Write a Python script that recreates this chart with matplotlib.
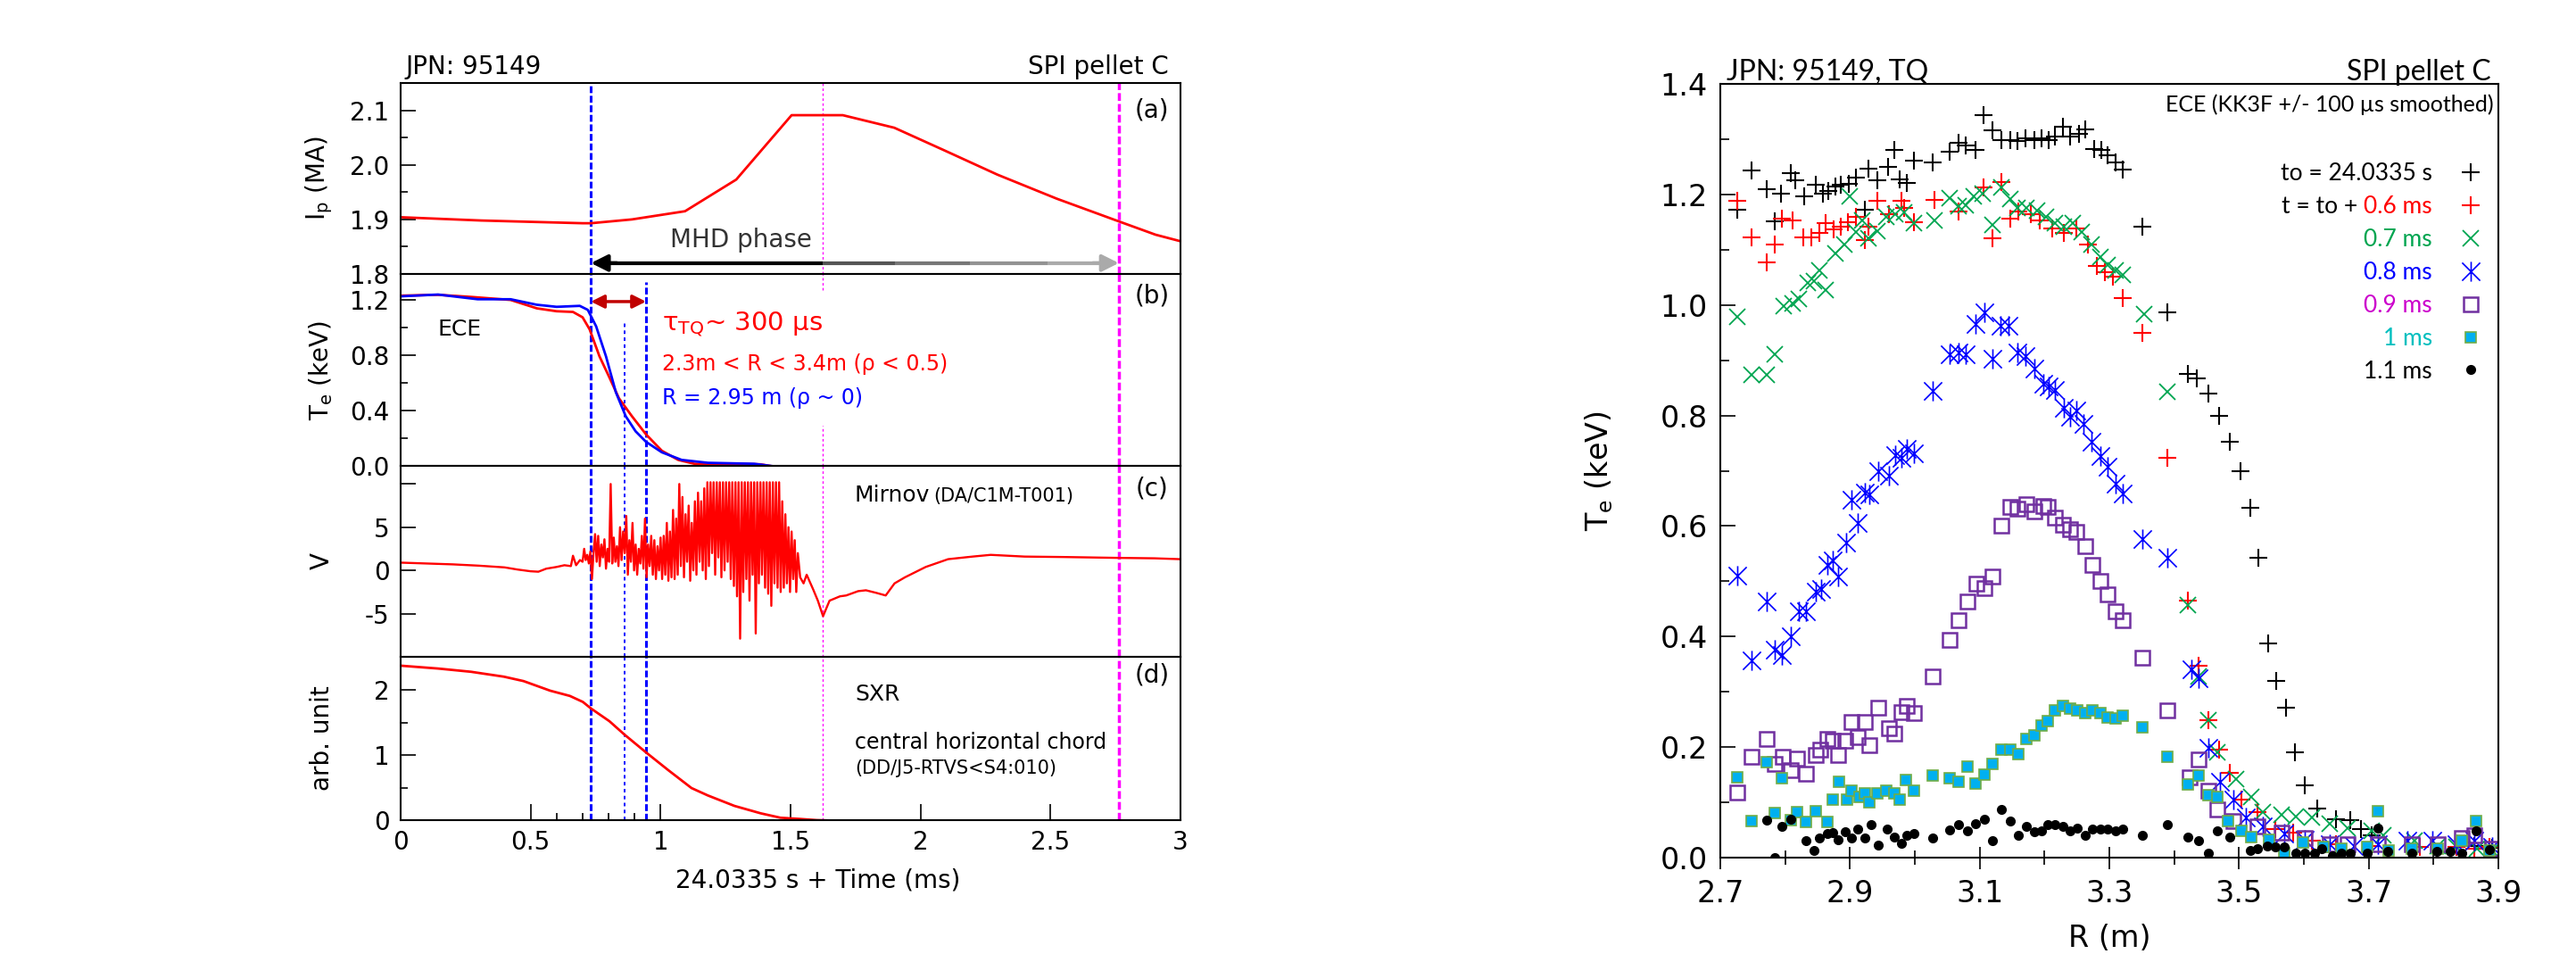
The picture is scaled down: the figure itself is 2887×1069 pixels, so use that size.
import matplotlib.pyplot as plt
from matplotlib.path import Path
from matplotlib.transforms import IdentityTransform

plt.rcParams['font.family'] = ['DejaVu Sans']
plt.rcParams['mathtext.default'] = 'regular'

# ---------------- left: time traces, time in ms after 24.0335 s
ip_t = [0, 0.309, 0.70, 0.732, 0.89, 1.094, 1.291, 1.504, 1.701, 1.899, 2.094, 2.296, 2.524, 2.765, 2.904, 3.0]
ip_ma = [1.904, 1.898, 1.893, 1.893, 1.900, 1.915, 1.973, 2.091, 2.091, 2.068, 2.026, 1.982, 1.938, 1.896, 1.872, 1.860]

ece_red_t = [0, 0.144, 0.27, 0.423, 0.524, 0.60, 0.663, 0.70, 0.727, 0.765, 0.803, 0.84, 0.89, 0.944, 1.005,
             1.068, 1.13, 1.28, 1.385, 1.45]
ece_red = [1.233, 1.239, 1.224, 1.202, 1.141, 1.120, 1.115, 1.076, 0.989, 0.793, 0.641, 0.489, 0.359, 0.228, 0.109,
           0.043, 0.015, 0.015, 0.011, -0.010]
ece_blue_t = [0, 0.144, 0.296, 0.423, 0.524, 0.60, 0.689, 0.72, 0.752, 0.79, 0.828, 0.866, 0.904, 0.944, 1.005,
              1.081, 1.182, 1.36, 1.45]
ece_blue = [1.228, 1.241, 1.207, 1.207, 1.167, 1.152, 1.159, 1.130, 1.011, 0.793, 0.533, 0.359, 0.250, 0.174, 0.098,
            0.043, 0.022, 0.015, -0.007]

mirnov_t = [0.00, 0.10, 0.20, 0.30, 0.40, 0.45, 0.50, 0.53, 0.56, 0.60, 0.63, 0.655, 0.663, 0.675, 0.69,
            0.700, 0.706, 0.712, 0.718, 0.724, 0.730, 0.736, 0.742, 0.748, 0.754, 0.760, 0.766, 0.772, 0.778,
            0.784, 0.790, 0.796, 0.802, 0.808, 0.814, 0.820, 0.826, 0.832, 0.838, 0.844, 0.850, 0.856, 0.862,
            0.868, 0.874, 0.880, 0.886, 0.892, 0.898, 0.904, 0.910, 0.916, 0.922, 0.928, 0.934, 0.940, 0.946,
            0.952, 0.958, 0.964, 0.970, 0.976, 0.982, 0.988, 0.994, 1.000, 1.006, 1.012, 1.018, 1.024, 1.030,
            1.036, 1.042, 1.048, 1.054, 1.060, 1.066, 1.072, 1.078, 1.084, 1.090, 1.096, 1.102, 1.108, 1.114,
            1.120, 1.126, 1.132, 1.138, 1.144, 1.150, 1.156, 1.162, 1.168, 1.174,
            1.180, 1.186, 1.192, 1.198, 1.204, 1.210, 1.216, 1.222, 1.228, 1.234, 1.240, 1.246, 1.252, 1.258,
            1.264, 1.270, 1.276, 1.282, 1.288, 1.294, 1.300, 1.306, 1.312, 1.318, 1.324, 1.330, 1.336, 1.342,
            1.348, 1.354, 1.360, 1.366, 1.372, 1.378, 1.384, 1.390, 1.396, 1.402, 1.408, 1.414, 1.420, 1.426,
            1.432, 1.438, 1.444, 1.450, 1.456,
            1.462, 1.468, 1.474, 1.480, 1.486, 1.492, 1.498, 1.504, 1.510, 1.516, 1.522, 1.528, 1.537, 1.550,
            1.562, 1.587, 1.605, 1.625, 1.650, 1.690, 1.714, 1.760, 1.790, 1.830, 1.866, 1.900, 1.940, 2.020,
            2.106, 2.200, 2.270, 2.400, 2.550, 2.650, 2.760, 2.900, 3.000]
mirnov_v = [0.90, 0.80, 0.70, 0.55, 0.35, 0.10, -0.10, -0.15, 0.20, 0.40, 0.60, 0.50, 1.70, 0.60, 1.20,
            1.0, 2.5, 1.2, 1.8, 0.8, 2.2, -1.0, 2.0, 4.2, 1.0, 4.0, 0.5, 3.0, 1.5,
            3.6, 0.2, 2.5, 1.0, 10.0, 0.8, 3.8, 1.0, 2.8, 0.5, 5.0, 1.2, 4.5, 2.0,
            6.3, -0.5, 3.5, 1.0, 5.5, 0.0, 3.0, -0.5, 2.5, 0.8, 4.0, 0.2, 6.0, -0.8,
            3.0, 0.5, 4.0, -0.5, 3.5, -1.0, 2.8, 0.0, 3.8, -1.0, 4.0, -0.5, 5.5, -1.2,
            4.5, -0.8, 7.0, -1.0, 6.0, -0.5, 10.0, 0.5, 8.5, -0.8, 6.5, 1.0, 7.5, -1.2,
            5.5, 0.0, 8.0, -0.5, 9.0, 1.0, 8.0, 0.0, 9.5, -1.0,
            10.2, 0.5, 10.2, 2.0, 10.2, -0.5, 10.2, 1.5, 10.2, -0.8, 10.2, 0.0, 10.2, 1.0,
            10.2, -1.0, 10.2, -1.8, 10.2, -3.0, 10.2, -7.9, 10.2, -2.5, 10.2, -1.0, 10.2, -3.5,
            10.2, -0.5, 10.2, -7.3, 10.2, -1.5, 10.2, -0.5, 10.2, -2.0, 10.2, -2.7, 10.2, -4.1,
            10.2, -1.5, 10.2, -2.0, 10.2,
            -2.5, 8.0, -2.0, 6.5, -1.5, 5.0, -2.5, 4.5, -1.0, 3.5, -2.5, 2.0, -0.8, -1.5,
            -0.5, -2.2, -3.5, -5.3, -3.5, -3.0, -2.9, -2.4, -2.3, -2.6, -2.9, -1.5, -0.8, 0.4,
            1.3, 1.6, 1.8, 1.6, 1.55, 1.5, 1.45, 1.4, 1.3]

sxr_t = [0, 0.144, 0.271, 0.397, 0.473, 0.575, 0.651, 0.701, 0.732, 0.803, 0.861, 0.944, 1.03, 1.119, 1.182,
         1.284, 1.385, 1.461, 1.537, 1.60, 1.689]
sxr = [2.374, 2.330, 2.280, 2.205, 2.137, 1.990, 1.909, 1.817, 1.717, 1.521, 1.315, 1.041, 0.767, 0.493, 0.379,
       0.219, 0.105, 0.037, 0.018, 0.0, -0.01]

t_mhd_start = 0.732
t_tq_mid = 0.861
t_tq_end = 0.944
t_ip_peak = 1.625
t_mhd_end = 2.763

# ---------------- right: Te profiles
r_t0 = [2.726, 2.748, 2.772, 2.784, 2.793, 2.809, 2.816, 2.830, 2.847, 2.858, 2.867, 2.877, 2.886, 2.898, 2.909,
        2.923, 2.928, 2.942, 2.959, 2.968, 2.977, 2.988, 2.998, 3.027, 3.053, 3.067, 3.079, 3.093, 3.106, 3.120,
        3.133, 3.147, 3.158, 3.170, 3.184, 3.195, 3.207, 3.216, 3.228, 3.240, 3.253, 3.263, 3.277, 3.288, 3.297,
        3.309, 3.321, 3.351, 3.390, 3.421, 3.435, 3.453, 3.469, 3.486, 3.502, 3.517, 3.530, 3.545, 3.558, 3.572,
        3.586, 3.601, 3.621, 3.649, 3.672, 3.688, 3.705, 3.863, 3.891]
te_t0 = [1.172, 1.243, 1.210, 1.151, 1.202, 1.239, 1.226, 1.196, 1.218, 1.202, 1.207, 1.215, 1.218, 1.219, 1.230,
         1.172, 1.247, 1.226, 1.250, 1.280, 1.228, 1.220, 1.261, 1.258, 1.277, 1.293, 1.288, 1.280, 1.344, 1.316,
         1.298, 1.298, 1.296, 1.301, 1.298, 1.301, 1.298, 1.304, 1.322, 1.304, 1.309, 1.317, 1.282, 1.280, 1.271,
         1.258, 1.245, 1.142, 0.987, 0.876, 0.867, 0.839, 0.800, 0.753, 0.699, 0.633, 0.543, 0.387, 0.320, 0.271,
         0.190, 0.131, 0.089, 0.070, 0.068, 0.051, 0.040, 0.021, 0.018]

r_06 = [2.726, 2.748, 2.772, 2.784, 2.795, 2.812, 2.828, 2.841, 2.853, 2.863, 2.875, 2.886, 2.897, 2.909, 2.923,
        2.928, 2.942, 2.960, 2.979, 2.984, 2.998, 3.030, 3.067, 3.106, 3.120, 3.133, 3.147, 3.160, 3.179, 3.193,
        3.212, 3.230, 3.249, 3.267, 3.281, 3.293, 3.306, 3.321, 3.351, 3.390, 3.421, 3.437, 3.453, 3.469, 3.486,
        3.504, 3.528, 3.556, 3.584, 3.612, 3.649, 3.705, 3.779, 3.835, 3.863, 3.886]
te_06 = [1.188, 1.122, 1.077, 1.110, 1.156, 1.153, 1.122, 1.123, 1.131, 1.148, 1.137, 1.142, 1.150, 1.159, 1.118,
         1.142, 1.188, 1.164, 1.188, 1.175, 1.150, 1.190, 1.169, 1.212, 1.121, 1.223, 1.156, 1.169, 1.164, 1.153,
         1.139, 1.131, 1.139, 1.110, 1.070, 1.059, 1.051, 1.012, 0.949, 0.723, 0.465, 0.347, 0.249, 0.196, 0.153,
         0.105, 0.083, 0.051, 0.046, 0.030, 0.024, 0.021, 0.019, 0.019, 0.016, 0.019]

r_07 = [2.726, 2.748, 2.772, 2.784, 2.798, 2.812, 2.821, 2.835, 2.844, 2.853, 2.863, 2.877, 2.891, 2.900, 2.909,
        2.919, 2.928, 2.942, 2.956, 2.970, 2.984, 2.998, 3.030, 3.053, 3.067, 3.079, 3.091, 3.105, 3.120, 3.133,
        3.147, 3.158, 3.172, 3.188, 3.202, 3.216, 3.230, 3.244, 3.258, 3.272, 3.286, 3.297, 3.309, 3.321, 3.353,
        3.390, 3.421, 3.437, 3.453, 3.467, 3.495, 3.519, 3.537, 3.565, 3.588, 3.612, 3.640, 3.668, 3.705, 3.723,
        3.770, 3.807, 3.835, 3.867, 3.891]
te_07 = [0.979, 0.874, 0.874, 0.911, 0.998, 1.003, 1.011, 1.040, 1.043, 1.062, 1.027, 1.094, 1.110, 1.196, 1.132,
         1.153, 1.121, 1.134, 1.159, 1.164, 1.167, 1.148, 1.153, 1.194, 1.178, 1.181, 1.197, 1.202, 1.145, 1.212,
         1.191, 1.175, 1.176, 1.170, 1.160, 1.148, 1.142, 1.148, 1.132, 1.110, 1.086, 1.073, 1.062, 1.054, 0.984,
         0.843, 0.457, 0.328, 0.249, 0.190, 0.142, 0.110, 0.083, 0.078, 0.075, 0.073, 0.062, 0.054, 0.048, 0.040,
         0.030, 0.021, 0.019, 0.016, 0.013]

r_08 = [2.726, 2.748, 2.772, 2.784, 2.795, 2.809, 2.821, 2.832, 2.847, 2.856, 2.865, 2.874, 2.881, 2.894, 2.902,
        2.912, 2.923, 2.930, 2.944, 2.960, 2.970, 2.979, 2.988, 2.998, 3.027, 3.053, 3.067, 3.079, 3.093, 3.107,
        3.120, 3.132, 3.145, 3.158, 3.170, 3.184, 3.198, 3.207, 3.216, 3.230, 3.239, 3.249, 3.260, 3.273, 3.286,
        3.297, 3.309, 3.321, 3.351, 3.390, 3.426, 3.437, 3.453, 3.470, 3.491, 3.510, 3.537, 3.570, 3.602, 3.640,
        3.677, 3.714, 3.760, 3.798, 3.835, 3.863, 3.891]
te_08 = [0.511, 0.357, 0.464, 0.376, 0.366, 0.400, 0.446, 0.445, 0.481, 0.486, 0.529, 0.537, 0.508, 0.570, 0.648,
         0.605, 0.661, 0.658, 0.699, 0.691, 0.728, 0.723, 0.739, 0.731, 0.845, 0.911, 0.914, 0.911, 0.965, 0.986,
         0.903, 0.962, 0.962, 0.914, 0.908, 0.885, 0.857, 0.852, 0.846, 0.814, 0.798, 0.809, 0.785, 0.753, 0.726,
         0.707, 0.677, 0.659, 0.577, 0.543, 0.341, 0.325, 0.199, 0.137, 0.105, 0.073, 0.057, 0.043, 0.032, 0.024,
         0.021, 0.024, 0.030, 0.030, 0.024, 0.030, 0.019]

r_09 = [2.726, 2.748, 2.772, 2.784, 2.796, 2.809, 2.819, 2.832, 2.847, 2.854, 2.865, 2.874, 2.881, 2.893, 2.902,
        2.912, 2.923, 2.930, 2.944, 2.960, 2.968, 2.979, 2.988, 2.998, 3.028, 3.053, 3.067, 3.081, 3.095, 3.107,
        3.120, 3.133, 3.147, 3.158, 3.172, 3.184, 3.198, 3.205, 3.216, 3.228, 3.240, 3.249, 3.263, 3.274, 3.286,
        3.297, 3.309, 3.321, 3.351, 3.390, 3.424, 3.437, 3.453, 3.467, 3.491, 3.528, 3.565, 3.602, 3.640, 3.668,
        3.714, 3.766, 3.807, 3.844, 3.863, 3.891]
te_09 = [0.118, 0.183, 0.214, 0.169, 0.183, 0.159, 0.180, 0.151, 0.186, 0.196, 0.215, 0.212, 0.186, 0.212, 0.246,
         0.218, 0.245, 0.203, 0.272, 0.234, 0.224, 0.263, 0.274, 0.261, 0.327, 0.394, 0.430, 0.464, 0.496, 0.487,
         0.509, 0.600, 0.634, 0.631, 0.640, 0.626, 0.637, 0.634, 0.616, 0.602, 0.595, 0.589, 0.563, 0.530, 0.500,
         0.476, 0.446, 0.430, 0.362, 0.266, 0.145, 0.178, 0.121, 0.088, 0.067, 0.057, 0.046, 0.035, 0.024, 0.024,
         0.024, 0.024, 0.024, 0.035, 0.041, 0.016]

r_10 = [2.726, 2.748, 2.772, 2.784, 2.795, 2.809, 2.819, 2.832, 2.847, 2.865, 2.874, 2.883, 2.895, 2.902, 2.914,
        2.923, 2.930, 2.942, 2.956, 2.968, 2.977, 2.986, 2.998, 3.028, 3.053, 3.067, 3.081, 3.093, 3.107, 3.120,
        3.133, 3.147, 3.160, 3.172, 3.184, 3.195, 3.205, 3.216, 3.228, 3.240, 3.251, 3.263, 3.274, 3.286, 3.297,
        3.309, 3.321, 3.351, 3.390, 3.421, 3.437, 3.453, 3.467, 3.483, 3.504, 3.519, 3.547, 3.570, 3.598, 3.630,
        3.658, 3.698, 3.714, 3.731, 3.766, 3.807, 3.844, 3.865, 3.886]
te_10 = [0.145, 0.067, 0.172, 0.081, 0.143, 0.068, 0.083, 0.065, 0.084, 0.065, 0.105, 0.137, 0.105, 0.121, 0.110,
         0.116, 0.100, 0.116, 0.121, 0.116, 0.105, 0.140, 0.121, 0.149, 0.143, 0.137, 0.164, 0.134, 0.150, 0.170,
         0.196, 0.195, 0.188, 0.215, 0.222, 0.239, 0.247, 0.266, 0.274, 0.270, 0.267, 0.262, 0.266, 0.261, 0.254,
         0.252, 0.256, 0.236, 0.183, 0.132, 0.148, 0.113, 0.110, 0.067, 0.048, 0.037, 0.032, 0.008, 0.027, 0.019,
         0.016, 0.019, 0.084, 0.013, 0.016, 0.016, 0.030, 0.067, 0.013]

r_11 = [2.772, 2.784, 2.795, 2.809, 2.832, 2.844, 2.853, 2.865, 2.874, 2.881, 2.893, 2.902, 2.912, 2.923, 2.932,
        2.944, 2.958, 2.968, 2.979, 2.988, 2.998, 3.028, 3.053, 3.067, 3.081, 3.093, 3.107, 3.120, 3.133, 3.147,
        3.160, 3.172, 3.184, 3.195, 3.205, 3.216, 3.228, 3.240, 3.251, 3.263, 3.274, 3.286, 3.297, 3.309, 3.321,
        3.351, 3.390, 3.421, 3.437, 3.453, 3.467, 3.486, 3.517, 3.528, 3.544, 3.556, 3.570, 3.588, 3.602, 3.616,
        3.628, 3.644, 3.658, 3.672, 3.698, 3.714, 3.730, 3.766, 3.805, 3.826, 3.844, 3.865, 3.886]
te_11 = [0.068, 0.000, 0.056, 0.069, 0.030, 0.013, 0.035, 0.043, 0.045, 0.032, 0.047, 0.036, 0.051, 0.035, 0.059,
         0.023, 0.051, 0.037, 0.026, 0.040, 0.043, 0.035, 0.050, 0.059, 0.048, 0.062, 0.070, 0.030, 0.087, 0.067,
         0.040, 0.056, 0.047, 0.048, 0.060, 0.059, 0.056, 0.048, 0.053, 0.041, 0.051, 0.051, 0.051, 0.048, 0.051,
         0.041, 0.060, 0.037, 0.030, 0.008, 0.048, 0.037, 0.013, 0.016, 0.021, 0.019, 0.019, 0.008, 0.008, 0.008,
         0.016, 0.003, 0.008, 0.008, 0.008, 0.053, 0.011, 0.008, 0.011, 0.011, 0.008, 0.048, 0.014]

legend_labels = ['to = 24.0335 s', '0.6 ms', '0.7 ms', '0.8 ms', '0.9 ms', '1 ms', '1.1 ms']
legend_colors = ['black', '#ff0000', '#00a550', '#0000ff', '#cc00cc', '#00bfbf', 'black']

# ---------------- figure
W, H = 2887, 1069
fig = plt.figure(figsize=(W / 100, H / 100), dpi=100)


def box(x0, y0, x1, y1):
    return [x0 / W, 1 - y1 / H, (x1 - x0) / W, (y1 - y0) / H]


ax_a = fig.add_axes(box(449, 93, 1323, 307))
ax_b = fig.add_axes(box(449, 307, 1323, 522))
ax_c = fig.add_axes(box(449, 522, 1323, 736))
ax_d = fig.add_axes(box(449, 736, 1323, 919))
ax_r = fig.add_axes(box(1928, 94, 2800, 961))


def style_left(ax, ylim, major, minor, labels, ylabel):
    ax.set_xlim(0, 3)
    ax.set_ylim(*ylim)
    ax.set_yticks(major)
    ax.set_yticks(minor, minor=True)
    ax.set_yticklabels(labels)
    ax.tick_params(axis='y', which='both', direction='in', labelsize=20, pad=9, width=1.2)
    ax.tick_params(axis='y', which='major', length=12)
    ax.tick_params(axis='y', which='minor', length=6)
    ax.tick_params(axis='x', which='both', bottom=False, labelbottom=False)
    for s in ax.spines.values():
        s.set_linewidth(1.5)
    ax.set_ylabel(ylabel, fontsize=20)
    ax.yaxis.set_label_coords(-0.085, 0.5)


style_left(ax_a, (1.8, 2.15), [1.8, 1.9, 2.0, 2.1], [1.85, 1.95, 2.05], ['1.8', '1.9', '2.0', '2.1'],
           'I$_p$ (MA)')
style_left(ax_b, (0, 1.39), [0, 0.4, 0.8, 1.2], [0.2, 0.6, 1.0], ['0.0', '0.4', '0.8', '1.2'],
           'T$_e$ (keV)')
style_left(ax_c, (-10, 12.1), [-5, 0, 5, 10], [], ['-5', '0', '5', ''], 'V')
style_left(ax_d, (0, 2.51), [0, 1, 2], [0.5, 1.5], ['0', '1', '2'], 'arb. unit')

ax_d.set_xticks([0, 0.5, 1, 1.5, 2, 2.5, 3])
ax_d.set_xticklabels(['0', '0.5', '1', '1.5', '2', '2.5', '3'])
ax_d.set_xticks([0.6, 0.7, 0.8, 0.9], minor=True)
ax_d.tick_params(axis='x', which='both', bottom=True, labelbottom=True, direction='in', labelsize=20, pad=8,
                 width=1.2)
ax_d.tick_params(axis='x', which='major', length=13)
ax_d.tick_params(axis='x', which='minor', length=6)
ax_d.set_xlabel('24.0335 s + Time (ms)', fontsize=20)
ax_d.xaxis.set_label_coords(0.535, -0.29)

# vertical markers
blue_dash = dict(color='#0000ff', lw=2.2, ls=(0, (2.5, 1)), zorder=1)
mag_dash = dict(color='#ff00ff', lw=2.5, ls=(0, (2.5, 1)), zorder=1)
blue_dot = dict(color='#0000ff', lw=1.4, ls=(0, (2, 2)), zorder=1)
mag_dot = dict(color='#ff00ff', lw=1.0, ls=(0, (2, 2)), zorder=1)
for ax in (ax_a, ax_b, ax_c, ax_d):
    ax.axvline(t_mhd_start, **blue_dash)
    ax.axvline(t_mhd_end, **mag_dash)
for ax in (ax_c, ax_d):
    ax.axvline(t_tq_end, **blue_dash)
    ax.axvline(t_tq_mid, **blue_dot)
    ax.axvline(t_ip_peak, **mag_dot)
ax_a.axvline(t_ip_peak, **mag_dot)
ax_b.axvline(t_tq_end, ymax=0.96, **blue_dash)
ax_b.axvline(t_tq_mid, ymax=0.76, **blue_dot)
ax_b.axvline(t_ip_peak, ymin=0.915, **mag_dot)
ax_b.axvline(t_ip_peak, ymax=0.21, **mag_dot)

# (a) plasma current
ax_a.plot(ip_t, ip_ma, color='#ff0000', lw=2)
mhd_y = 1.82
mhd_stops = [t_mhd_start + 0.03, t_ip_peak, 1.90, 2.19, 2.49, t_mhd_end - 0.03]
mhd_greys = ['#000000', '#555555', '#777777', '#939393', '#aaaaaa']
for i, c in enumerate(mhd_greys):
    ax_a.plot(mhd_stops[i:i + 2], [mhd_y, mhd_y], color=c, lw=3, solid_capstyle='butt')
ax_a.annotate('', xy=(t_mhd_start, mhd_y), xytext=(t_mhd_start + 0.1, mhd_y),
              arrowprops=dict(arrowstyle='-|>', color='black', lw=3, mutation_scale=28, shrinkA=0, shrinkB=0))
ax_a.annotate('', xy=(t_mhd_end, mhd_y), xytext=(t_mhd_end - 0.1, mhd_y),
              arrowprops=dict(arrowstyle='-|>', color='#aaaaaa', lw=3, mutation_scale=28, shrinkA=0, shrinkB=0))
ax_a.text(1.31, 1.862, 'MHD phase', fontsize=20, color='#333333', ha='center', va='center')
ax_a.text(2.89, 2.1, '(a)', fontsize=20, ha='center', va='center')
ax_a.text(0.006, 1.045, 'JPN: 95149', transform=ax_a.transAxes, fontsize=20, ha='left', va='baseline')
ax_a.text(0.985, 1.045, 'SPI pellet C', transform=ax_a.transAxes, fontsize=20, ha='right', va='baseline')

# (b) ECE
ax_b.plot(ece_red_t, ece_red, color='#ff0000', lw=2)
ax_b.plot(ece_blue_t, ece_blue, color='#0000ff', lw=2)
ax_b.annotate('', xy=(t_mhd_start, 1.19), xytext=(t_tq_end, 1.19),
              arrowprops=dict(arrowstyle='<|-|>', color='#c00000', lw=2.5, mutation_scale=22, shrinkA=0, shrinkB=0))
ax_b.text(1.005, 1.03, 'τ$_{TQ}$~ 300 µs', fontsize=21, color='#ff0000', va='center')
ax_b.text(1.005, 0.74, '2.3m < R < 3.4m (ρ < 0.5)', fontsize=17, color='#ff0000', va='center')
ax_b.text(1.005, 0.49, 'R = 2.95 m (ρ ~ 0)', fontsize=17, color='#0000ff', va='center')
ax_b.text(0.144, 0.99, 'ECE', fontsize=18, va='center')
ax_b.text(2.89, 1.23, '(b)', fontsize=20, ha='center', va='center')

# (c) Mirnov
ax_c.plot(mirnov_t, mirnov_v, color='#ff0000', lw=1.7)
ax_c.text(1.747, 8.0, 'Mirnov', fontsize=18, va='baseline')
ax_c.text(2.05, 8.0, '(DA/C1M-T001)', fontsize=15, va='baseline')
ax_c.text(2.89, 9.5, '(c)', fontsize=20, ha='center', va='center')

# (d) SXR
ax_d.plot(sxr_t, sxr, color='#ff0000', lw=2)
ax_d.text(1.747, 1.93, 'SXR', fontsize=18, va='center')
ax_d.text(1.747, 1.2, 'central horizontal chord', fontsize=17, va='center')
ax_d.text(1.747, 0.79, '(DD/J5-RTVS<S4:010)', fontsize=15, va='center')
ax_d.text(2.89, 2.23, '(d)', fontsize=20, ha='center', va='center')

# ---------------- right panel
star = Path([(-1, -1), (1, 1), (-1, 1), (1, -1), (0, -1.1), (0, 1.1)],
            [Path.MOVETO, Path.LINETO, Path.MOVETO, Path.LINETO, Path.MOVETO, Path.LINETO])

h0, = ax_r.plot(r_t0, te_t0, ls='none', marker='+', ms=15, mew=1.5, color='black')
h1, = ax_r.plot(r_06, te_06, ls='none', marker='+', ms=15, mew=1.5, color='#ff0000')
h2, = ax_r.plot(r_07, te_07, ls='none', marker='x', ms=13, mew=1.3, color='#00a550')
h3, = ax_r.plot(r_08, te_08, ls='none', marker=star, ms=16, mew=1.2, color='#0000ff')
h4, = ax_r.plot(r_09, te_09, ls='none', marker='s', ms=12, mew=1.8, mfc='none', mec='#7030a0')
h5, = ax_r.plot(r_10, te_10, ls='none', marker='s', ms=8.5, mew=1.2, mfc='#00b0f0', mec='#70ad47')
h6, = ax_r.plot(r_11, te_11, ls='none', marker='o', ms=7, color='black')

ax_r.set_xlim(2.7, 3.9)
ax_r.set_ylim(0, 1.4)
ax_r.set_xticks([2.7, 2.9, 3.1, 3.3, 3.5, 3.7, 3.9])
ax_r.set_xticks([2.8, 3.0, 3.2, 3.4, 3.6, 3.8], minor=True)
ax_r.set_yticks([0, 0.2, 0.4, 0.6, 0.8, 1.0, 1.2, 1.4])
ax_r.set_yticklabels(['0.0', '0.2', '0.4', '0.6', '0.8', '1.0', '1.2', '1.4'])
ax_r.set_yticks([0.1, 0.3, 0.5, 0.7, 0.9, 1.1, 1.3], minor=True)
ax_r.tick_params(axis='y', which='both', direction='in', labelsize=24, pad=10, width=1.2)
ax_r.tick_params(axis='y', which='major', length=12)
ax_r.tick_params(axis='y', which='minor', length=7)
ax_r.tick_params(axis='x', which='both', direction='inout', labelsize=24, pad=8, width=1.2)
ax_r.tick_params(axis='x', which='major', length=18)
ax_r.tick_params(axis='x', which='minor', length=12)
for s in ax_r.spines.values():
    s.set_linewidth(1.5)
ax_r.set_xlabel('R (m)', fontsize=24)
ax_r.xaxis.set_label_coords(0.5, -0.085)
ax_r.set_ylabel('T$_e$ (keV)', fontsize=24)
ax_r.yaxis.set_label_coords(-0.135, 0.5)

ax_r.text(0.008, 1.005, 'JPN: 95149, TQ', transform=ax_r.transAxes, family='Lato', fontsize=23,
          ha='left', va='baseline')
ax_r.text(0.99, 1.005, 'SPI pellet C', transform=ax_r.transAxes, family='Lato', fontsize=23,
          ha='right', va='baseline')
ax_r.text(0.994, 0.973, 'ECE (KK3F +/- 100 µs smoothed)', transform=ax_r.transAxes, family='Lato',
          fontsize=18, ha='right', va='center')

leg = ax_r.legend([h0, h1, h2, h3, h4, h5, h6], legend_labels, loc='upper right',
                  bbox_to_anchor=(0.98, 0.898), markerfirst=False, frameon=False, numpoints=1,
                  prop={'family': 'Lato', 'size': 19}, handlelength=1.0, handletextpad=1.15,
                  labelspacing=0.45, borderpad=0, borderaxespad=0)
for txt, c in zip(leg.get_texts(), legend_colors):
    txt.set_color(c)

fig.canvas.draw()
bb = leg.get_texts()[1].get_window_extent()
fig.text(bb.x0, bb.y0, 't = to + ', transform=IdentityTransform(), family='Lato', fontsize=19,
         ha='right', va='bottom')

fig.savefig('out.png', dpi=100)
